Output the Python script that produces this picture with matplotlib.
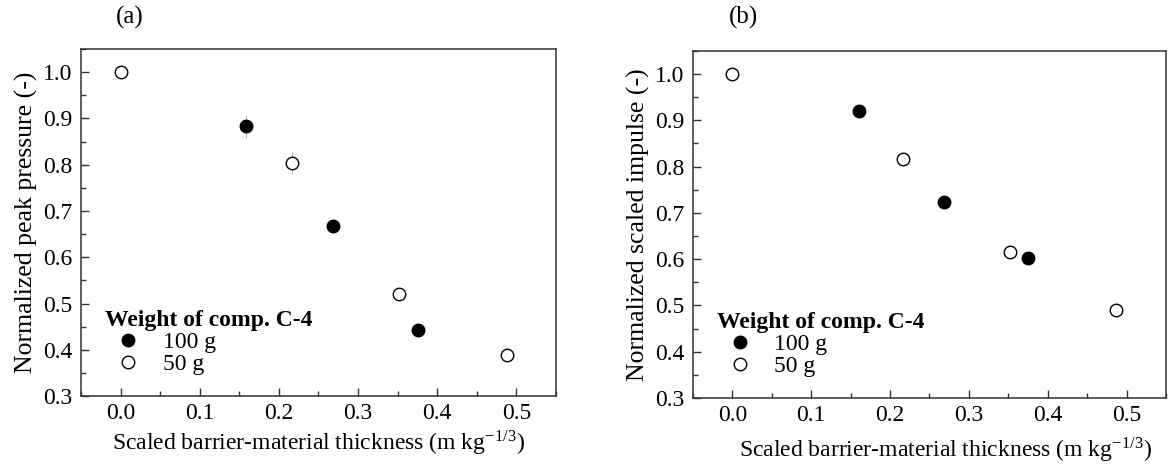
import numpy as np
import matplotlib
matplotlib.use('Agg')
import matplotlib.pyplot as plt
from matplotlib.ticker import MultipleLocator

plt.rcParams['font.family'] = ['Liberation Serif', 'DejaVu Serif']
plt.rcParams['mathtext.fontset'] = 'stix'

# panel (a): normalized peak pressure
x_a_100 = [0.159, 0.268, 0.376]
y_a_100 = [0.883, 0.668, 0.443]
e_a_100 = [0.025, 0.008, 0.004]
x_a_50 = [0.0, 0.216, 0.352, 0.488]
y_a_50 = [1.0, 0.803, 0.521, 0.389]
e_a_50 = [0.0, 0.024, 0.004, 0.003]

# panel (b): normalized scaled impulse
x_b_100 = [0.160, 0.268, 0.375]
y_b_100 = [0.919, 0.724, 0.603]
x_b_50 = [0.0, 0.216, 0.352, 0.487]
y_b_50 = [1.0, 0.816, 0.615, 0.491]

xlabel = r'Scaled barrier-material thickness (m kg$^{\mathregular{-1/3}}$)'
legend_title = 'Weight of comp. C-4'
labels = ['100 g', '50 g']

fig = plt.figure(figsize=(11.68, 4.71), dpi=100)
ax_a = fig.add_axes([0.0693, 0.159, 0.4067, 0.737])
ax_b = fig.add_axes([0.5933, 0.155, 0.405, 0.737])


def style_axis(ax, ylabel):
    ax.set_xlim(-0.05, 0.55)
    ax.set_ylim(0.3, 1.05)
    ax.xaxis.set_major_locator(MultipleLocator(0.1))
    ax.xaxis.set_minor_locator(MultipleLocator(0.05))
    ax.yaxis.set_major_locator(MultipleLocator(0.1))
    ax.yaxis.set_minor_locator(MultipleLocator(0.05))
    ax.tick_params(which='both', direction='in', top=False, right=False,
                   labelsize=17, color='#333333')
    ax.tick_params(which='major', length=6, width=1)
    ax.tick_params(which='minor', length=3.5, width=1)
    ax.tick_params(axis='y', pad=6)
    ax.tick_params(axis='x', pad=5)
    for sp in ax.spines.values():
        sp.set_color('#333333')
        sp.set_linewidth(1.1)
    ax.set_ylabel(ylabel, fontsize=18.5, labelpad=4)
    ax.set_xlabel(xlabel, fontsize=17, labelpad=3)
    leg = ax.legend(loc='lower left', bbox_to_anchor=(0.05, 0.06),
                    title=legend_title, frameon=False, fontsize=17,
                    title_fontproperties={'weight': 'bold', 'size': 17},
                    alignment='left', handletextpad=0.45, labelspacing=0.02,
                    borderaxespad=0, borderpad=0, handlelength=2.0)
    return leg


# (a)
ax_a.errorbar(x_a_100, y_a_100, yerr=e_a_100, fmt='none', ecolor='0.65',
              elinewidth=0.6, capsize=0)
ax_a.errorbar(x_a_50, y_a_50, yerr=e_a_50, fmt='none', ecolor='0.65',
              elinewidth=0.6, capsize=0)
ax_a.plot(x_a_100, y_a_100, 'o', ms=9, mfc='black', mec='black',
          mew=1, ls='none', label=labels[0])
ax_a.plot(x_a_50, y_a_50, 'o', ms=9, mfc='white', mec='black',
          mew=1, ls='none', label=labels[1])
style_axis(ax_a, 'Normalized peak pressure (-)')

# (b)
ax_b.plot(x_b_100, y_b_100, 'o', ms=9, mfc='black', mec='black',
          mew=1, ls='none', label=labels[0])
ax_b.plot(x_b_50, y_b_50, 'o', ms=9, mfc='white', mec='black',
          mew=1, ls='none', label=labels[1])
style_axis(ax_b, 'Normalized scaled impulse (-)')
ax_b.xaxis.set_label_coords(0.535, -0.11)

fig.text(130 / 1168, 1 - 17 / 471, '(a)', fontsize=18, ha='center', va='center')
fig.text(744 / 1168, 1 - 17 / 471, '(b)', fontsize=18, ha='center', va='center')

fig.savefig('out.png', dpi=100)
